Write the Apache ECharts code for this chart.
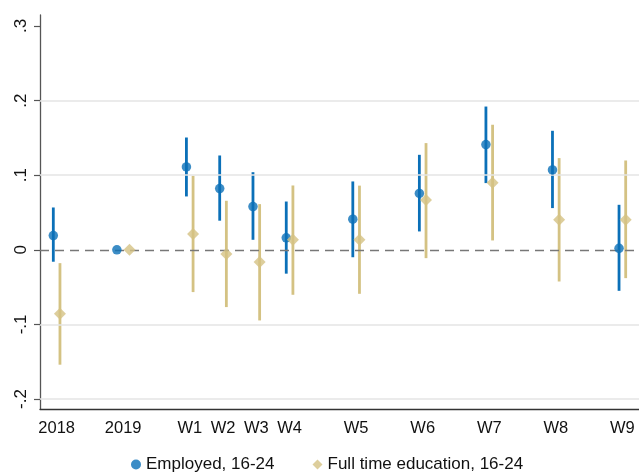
<!DOCTYPE html>
<html>
<head>
<meta charset="utf-8">
<script src="https://cdn.jsdelivr.net/npm/echarts@6/dist/echarts.min.js"></script>
<style>html,body{margin:0;padding:0;background:#fff}#c{width:639px;height:475px}</style>
</head>
<body>
<div id="c"></div>
<script>
// Categories and their positions on the x scale
const categories = ['2018','2019','W1','W2','W3','W4','W5','W6','W7','W8','W9'];
const catPos = [0, 2, 4, 5, 6, 7, 9, 11, 13, 15, 17];
// Employed, 16-24
const empEst = [0.019, 0, 0.111, 0.082, 0.058, 0.016, 0.041, 0.0755, 0.141, 0.107, 0.002];
const empLo  = [-0.016, null, 0.0715, 0.039, 0.0134, -0.032, -0.010, 0.0246, 0.0894, 0.0559, -0.055];
const empHi  = [0.0567, null, 0.1505, 0.1264, 0.104, 0.0647, 0.0916, 0.1273, 0.192, 0.1595, 0.0603];
// Full time education, 16-24
const eduEst = [-0.0858, 0, 0.021, -0.0058, -0.0165, 0.0134, 0.0134, 0.0666, 0.0898, 0.0402, 0.0402];
const eduLo  = [-0.154, null, -0.0567, -0.0768, -0.0947, -0.0603, -0.059, -0.0112, 0.0125, -0.0425, -0.038];
const eduHi  = [-0.0179, null, 0.0992, 0.0657, 0.0612, 0.0862, 0.086, 0.143, 0.1676, 0.1229, 0.1197];
const yTicks = [-0.2, -0.1, 0, 0.1, 0.2, 0.3];
const gridVals = [-0.2, -0.1, 0.1, 0.2];

const BLUE = '#0b70b8';
const TAN = '#d4c283';
const off = [-0.1, 0.1];
const offAt = (i, s) => (i === 1 ? off[s] * 1.9 : off[s]);

function ciData(lo, hi, s) {
  const d = [];
  lo.forEach((v, i) => { if (v !== null) d.push([catPos[i] + offAt(i, s), v, hi[i]]); });
  return d;
}
function ptData(est, s) {
  return est.map((v, i) => [catPos[i] + offAt(i, s), v]);
}
function ciSeries(name, data, color) {
  return {
    type: 'custom', name: name, data: data, z: 3, silent: true,
    renderItem: function (params, api) {
      const p1 = api.coord([api.value(0), api.value(1)]);
      const p2 = api.coord([api.value(0), api.value(2)]);
      return { type: 'line', shape: { x1: p1[0], y1: p1[1], x2: p2[0], y2: p2[1] },
               style: { stroke: color, lineWidth: 2.8 } };
    },
    encode: { x: 0, y: [1, 2] }
  };
}
const fmtY = v => { if (Math.abs(v) < 1e-9) return '0'; const s = String(Math.round(v * 10) / 10); return s.replace('0.', '.'); };

const chart = echarts.init(document.getElementById('c'), null, { renderer: 'canvas' });
chart.setOption({
  animation: false,
  backgroundColor: '#fff',
  textStyle: { fontFamily: 'Liberation Sans, Arial, sans-serif' },
  grid: { left: 40, top: 15, width: 600, height: 394, containLabel: false },
  xAxis: {
    type: 'value', min: -0.5, max: 17.5,
    axisLine: { show: true, onZero: false, lineStyle: { color: '#333', width: 1.3 } },
    axisTick: { show: false },
    splitLine: { show: false },
    axisLabel: {
      customValues: catPos, margin: 11, color: '#111', fontSize: 16.5,
      fontFamily: 'Liberation Sans, Arial, sans-serif',
      formatter: v => { const i = catPos.indexOf(v); return i >= 0 ? categories[i] : ''; }
    }
  },
  yAxis: {
    type: 'value', min: -0.2134, max: 0.3147,
    axisLine: { show: true, onZero: false, lineStyle: { color: '#555', width: 1.3 } },
    axisTick: { show: true, customValues: yTicks, length: 6, lineStyle: { color: '#555', width: 1.2 } },
    splitLine: { show: false },
    axisLabel: {
      customValues: yTicks, rotate: 90, margin: 10, color: '#111', fontSize: 17,
      fontFamily: 'Liberation Sans, Arial, sans-serif', formatter: fmtY
    }
  },
  legend: {
    data: [
      { name: 'Employed, 16-24', icon: 'circle' },
      { name: 'Full time education, 16-24', icon: 'diamond' }
    ],
    top: 451, left: 126, itemWidth: 10, itemHeight: 10, itemGap: 38,
    textStyle: { fontSize: 17, color: '#111', fontFamily: 'Liberation Sans, Arial, sans-serif' }
  },
  series: [
    {
      type: 'line', name: 'grid', data: [], silent: true, z: 1,
      markLine: {
        silent: true, symbol: 'none', label: { show: false },
        lineStyle: { color: '#e4e4e4', width: 1.6, type: 'solid' },
        data: gridVals.map(v => ({ yAxis: v }))
      }
    },
    {
      type: 'line', name: 'zero', data: [], silent: true, z: 2,
      markLine: {
        silent: true, symbol: 'none', label: { show: false },
        lineStyle: { color: '#777', width: 1.3, type: [9, 6] },
        data: [{ yAxis: 0 }]
      }
    },
    ciSeries('empCI', ciData(empLo, empHi, 0), BLUE),
    ciSeries('eduCI', ciData(eduLo, eduHi, 1), TAN),
    {
      type: 'scatter', name: 'Employed, 16-24', data: ptData(empEst, 0),
      symbol: 'circle', symbolSize: 9.5, itemStyle: { color: BLUE }, z: 5
    },
    {
      type: 'scatter', name: 'Full time education, 16-24', data: ptData(eduEst, 1),
      symbol: 'diamond', symbolSize: 12, itemStyle: { color: TAN }, z: 6
    }
  ]
});
</script>
</body>
</html>
